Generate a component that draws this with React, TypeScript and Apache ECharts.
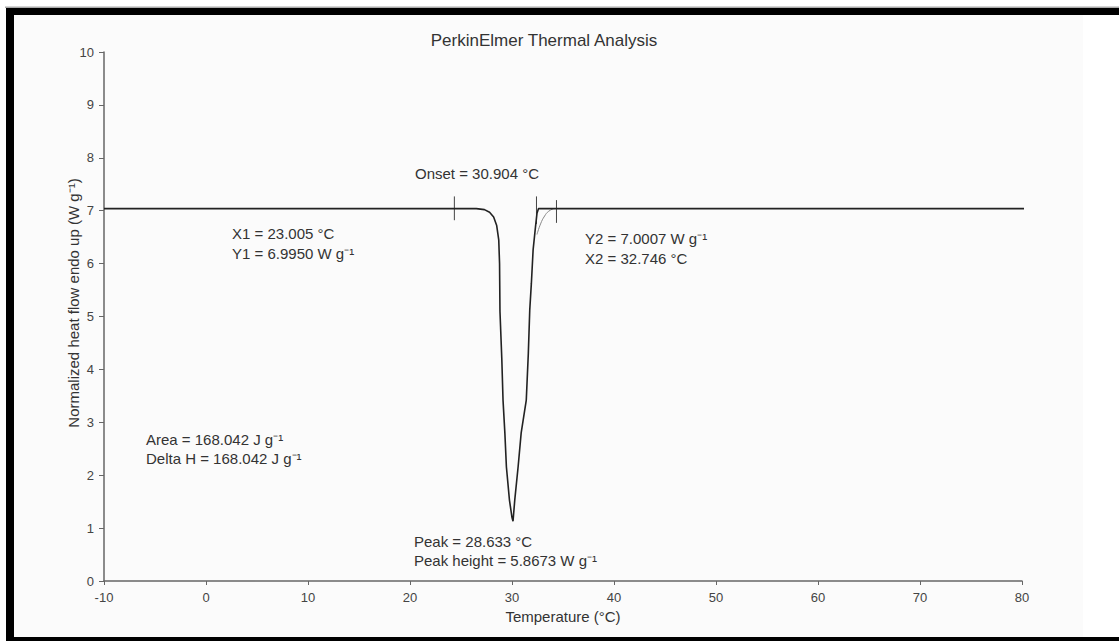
import React, { useEffect, useRef } from "react";
import * as echarts from "echarts";

// Main DSC trace (temperature in °C, normalized heat flow in W g^-1)
const tempMain = [-10, 0, 10, 20, 26.5, 27.3, 27.8, 28.2, 28.5, 28.7, 28.78, 28.82, 29.0, 29.12, 29.3, 29.45, 29.75, 30.0, 30.1, 30.27, 30.6, 30.9, 31.4, 31.6, 31.74, 31.9, 32.07, 32.3, 32.45, 32.6, 40, 50, 60, 70, 80, 81.4, 81.9, 82.1];
const heatMain = [7.04, 7.04, 7.04, 7.04, 7.04, 7.02, 6.97, 6.88, 6.72, 6.45, 6.0, 5.1, 4.2, 3.42, 2.8, 2.16, 1.53, 1.2, 1.13, 1.53, 2.16, 2.8, 3.42, 4.3, 5.12, 5.63, 6.26, 6.69, 6.95, 7.04, 7.04, 7.04, 7.04, 7.04, 7.04, 7.04, 6.95, 6.89];

// Thin grey return line beside the rising edge
const tempTail = [32.45, 32.8, 33.2, 33.6, 34.1];
const heatTail = [6.55, 6.75, 6.9, 6.99, 7.04];

// Vertical marker ticks (X1, onset, X2)
const markerX = [24.35, 32.4, 34.36];
const markerLow = [6.82, 6.75, 6.77];
const markerHigh = [7.27, 7.27, 7.2];

const xTicks = { min: -10, max: 80, step: 10 };
const yTicks = { min: 0, max: 10, step: 1 };

const titleText = "PerkinElmer Thermal Analysis";
const xName = "Temperature (°C)";
const yName = "Normalized heat flow endo up (W g⁻¹)";
const annotations = [
  "Onset = 30.904 °C",
  "X1 = 23.005 °C",
  "Y1 = 6.9950 W g⁻¹",
  "Y2 = 7.0007 W g⁻¹",
  "X2 = 32.746 °C",
  "Area = 168.042 J g⁻¹",
  "Delta H = 168.042 J g⁻¹",
  "Peak = 28.633 °C",
  "Peak height = 5.8673 W g⁻¹",
];

const FONT = "'Liberation Sans', Arial, sans-serif";
const TXT = "#333";

export default function App() {
  const ref = useRef<HTMLDivElement>(null);
  useEffect(() => {
    if (!ref.current) return;
    const chart = echarts.init(ref.current, undefined, { renderer: "svg" });

    const annPos = [
      [415, 173],
      [232, 233],
      [232, 253],
      [585, 238],
      [585, 258],
      [146, 439],
      [146, 458],
      [414, 541],
      [414, 560],
    ];

    const textEl = (t: string, x: number, y: number, size = 15, align = "left", rotation = 0) => ({
      type: "text",
      x,
      y,
      rotation,
      z: 50,
      style: {
        text: t,
        fill: TXT,
        font: `${size}px ${FONT}`,
        align,
        verticalAlign: "middle",
      },
    });

    const markerSeries = markerX.map((x, i) => ({
      type: "line",
      data: [
        [x, markerLow[i]],
        [x, markerHigh[i]],
      ],
      symbol: "none",
      clip: false,
      lineStyle: { color: "#444", width: 1 },
      z: 3,
    }));

    chart.setOption({
      animation: false,
      backgroundColor: "#ffffff",
      grid: { left: 104, right: 97, top: 52, bottom: 60, containLabel: false },
      xAxis: {
        type: "value",
        min: xTicks.min,
        max: xTicks.max,
        interval: xTicks.step,
        name: xName,
        nameLocation: "middle",
        nameGap: 25,
        nameTextStyle: { color: TXT, fontSize: 15, fontFamily: FONT },
        axisLine: { show: true, onZero: false, lineStyle: { color: "#666", width: 1.5 } },
        axisTick: { show: true, length: 4, lineStyle: { color: "#666" } },
        axisLabel: { color: "#444", fontSize: 13, fontFamily: FONT, margin: 10 },
        splitLine: { show: false },
      },
      yAxis: {
        type: "value",
        min: yTicks.min,
        max: yTicks.max,
        interval: yTicks.step,
        axisLine: { show: true, onZero: false, lineStyle: { color: "#666", width: 1.5 } },
        axisTick: { show: true, length: 5, lineStyle: { color: "#666" } },
        axisLabel: { color: "#444", fontSize: 13, fontFamily: FONT, margin: 10 },
        splitLine: { show: false },
      },
      series: [
        {
          type: "line",
          data: tempMain.map((t, i) => [t, heatMain[i]]),
          symbol: "none",
          clip: false,
          lineStyle: { color: "#222", width: 1.6 },
          z: 4,
        },
        {
          type: "line",
          data: tempTail.map((t, i) => [t, heatTail[i]]),
          symbol: "none",
          clip: false,
          smooth: true,
          lineStyle: { color: "#888", width: 1 },
          z: 3,
        },
        ...markerSeries,
      ],
      graphic: [
        { type: "rect", z: -100, silent: true, shape: { x: 14, y: 15, width: 1069, height: 622 }, style: { fill: "#fbfbfb" } },
        { type: "rect", z: 60, shape: { x: 5, y: 6.5, width: 1114, height: 1.5 }, style: { fill: "#aaa" } },
        { type: "rect", z: 60, shape: { x: 6, y: 8, width: 1113, height: 7 }, style: { fill: "#000" } },
        { type: "rect", z: 60, shape: { x: 6, y: 8, width: 8, height: 633 }, style: { fill: "#000" } },
        { type: "rect", z: 60, shape: { x: 6, y: 637, width: 1113, height: 4 }, style: { fill: "#000" } },
        textEl(titleText, 544, 40, 17, "center"),
        textEl(yName, 73, 303, 15, "center", Math.PI / 2),
        ...annotations.map((a, i) => textEl(a, annPos[i][0], annPos[i][1])),
      ],
    });
    return () => chart.dispose();
  }, []);
  return <div ref={ref} style={{ position: "fixed", left: 0, top: 0, width: 1119, height: 641 }} />;
}
